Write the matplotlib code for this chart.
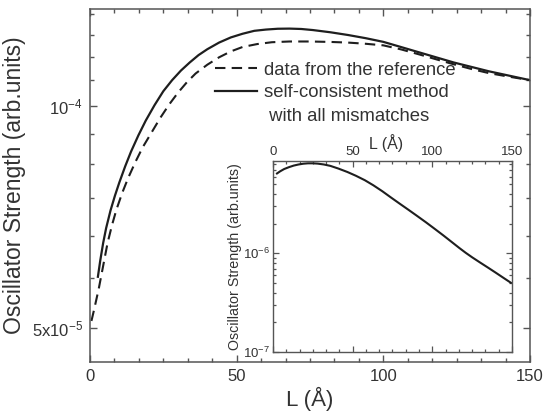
import matplotlib
matplotlib.use("Agg")
import matplotlib.pyplot as plt
from matplotlib.ticker import FixedLocator, FixedFormatter, MultipleLocator, LogLocator, NullFormatter
from matplotlib.lines import Line2D

plt.rcParams["font.family"] = ["Liberation Sans", "DejaVu Sans"]
plt.rcParams["mathtext.fontset"] = "custom"
plt.rcParams["mathtext.rm"] = "Liberation Sans"
plt.rcParams["mathtext.it"] = "Liberation Sans:italic"
plt.rcParams["mathtext.bf"] = "Liberation Sans:bold"

# Oscillator strength vs. well width L (Angstrom)
L_ref = [0.5, 1.5, 3, 4.5, 6, 7.5, 9, 11, 13, 15.5, 18, 21, 24, 27, 30, 33, 36, 40, 44, 48,
         52, 57, 62, 68, 75, 82, 88, 94, 100, 106, 112, 118, 124, 130, 136, 143, 150]
f_ref = [5.105e-5, 5.309e-5, 5.649e-5, 6.067e-5, 6.516e-5, 6.887e-5, 7.228e-5, 7.621e-5,
         7.980e-5, 8.395e-5, 8.790e-5, 9.204e-5, 9.638e-5, 1.0046e-4, 1.0423e-4, 1.0765e-4,
         1.1066e-4, 1.1376e-4, 1.1641e-4, 1.1858e-4, 1.2023e-4, 1.2134e-4, 1.2204e-4,
         1.2232e-4, 1.2232e-4, 1.2215e-4, 1.2190e-4, 1.2145e-4, 1.2085e-4, 1.1935e-4,
         1.1755e-4, 1.1570e-4, 1.1390e-4, 1.1225e-4, 1.1080e-4, 1.0955e-4, 1.0839e-4]

L_sc = [2.7, 3.5, 4.5, 5.5, 7, 8.5, 10, 12, 14, 16.5, 19, 22, 25, 28, 31, 34, 37, 40, 44, 48,
        52, 56, 60, 64, 68, 72, 76, 82, 88, 94, 100, 106, 112, 118, 124, 130, 136, 143, 150]
f_sc = [5.861e-5, 6.166e-5, 6.516e-5, 6.823e-5, 7.211e-5, 7.551e-5, 7.870e-5, 8.279e-5,
        8.670e-5, 9.120e-5, 9.550e-5, 1.0023e-4, 1.0471e-4, 1.0839e-4, 1.1169e-4, 1.1455e-4,
        1.1722e-4, 1.1940e-4, 1.2190e-4, 1.2388e-4, 1.2531e-4, 1.2647e-4, 1.2697e-4,
        1.2729e-4, 1.2735e-4, 1.2720e-4, 1.2677e-4, 1.2589e-4, 1.2482e-4, 1.2359e-4,
        1.2218e-4, 1.2023e-4, 1.1830e-4, 1.1641e-4, 1.1455e-4, 1.1298e-4, 1.1143e-4,
        1.0990e-4, 1.0839e-4]

# inset: wider range of oscillator strength
L_in = [2.5, 4.5, 7, 10, 13, 16, 19, 22, 25, 28, 32, 36, 41, 46.7, 52, 57.6, 63, 68.6, 74,
        79.5, 85, 90.4, 96, 101.3, 107, 112.2, 117, 121, 125, 130, 135, 140, 145, 149.3]
f_in = [6.457e-6, 6.792e-6, 7.161e-6, 7.482e-6, 7.762e-6, 7.962e-6, 8.110e-6, 8.185e-6,
        8.185e-6, 8.128e-6, 7.962e-6, 7.709e-6, 7.244e-6, 6.683e-6, 6.124e-6, 5.521e-6,
        4.898e-6, 4.266e-6, 3.690e-6, 3.192e-6, 2.767e-6, 2.399e-6, 2.065e-6, 1.782e-6,
        1.517e-6, 1.303e-6, 1.132e-6, 1.012e-6, 9.120e-7, 8.072e-7, 7.161e-7, 6.339e-7,
        5.598e-7, 5.035e-7]

main_yticks = [5e-5, 1e-4]
main_yticklabels = ["5x10$^{-5}$", "10$^{-4}$"]
legend_labels = ["data from the reference", "self-consistent method"]
legend_extra = " with all mismatches"

TXT = "#333333"
LINE = "#1e1e1e"
SPINE = "#555555"

fig = plt.figure(figsize=(5.46, 4.13), dpi=100)
ax = fig.add_axes([0.1648, 0.1235, 0.8059, 0.8547])

ax.plot(L_ref, f_ref, color=LINE, lw=1.5, dashes=(5, 3))
ax.plot(L_sc, f_sc, color=LINE, lw=1.6)

ax.set_yscale("log")
ax.set_xlim(0, 150)
ax.set_ylim(4.49e-5, 1.354e-4)
ax.xaxis.set_major_locator(MultipleLocator(50))
ax.xaxis.set_minor_locator(MultipleLocator(50 / 6))
ax.yaxis.set_major_locator(FixedLocator(main_yticks))
ax.yaxis.set_major_formatter(FixedFormatter(main_yticklabels))
ax.yaxis.set_minor_locator(FixedLocator([n * 5e-5 / 6 for n in range(6, 17)]))
ax.yaxis.set_minor_formatter(NullFormatter())

ax.tick_params(which="both", direction="in", top=True, right=True, color=SPINE, width=1.0, labelcolor=TXT)
ax.tick_params(which="major", length=5, labelsize=12, pad=5)
ax.tick_params(which="minor", length=3)
for s in ax.spines.values():
    s.set_color(SPINE)
    s.set_linewidth(1.1)

ax.set_xlabel("L (Å)", fontsize=16, color=TXT, labelpad=2)
ax.set_ylabel("Oscillator Strength (arb.units)", fontsize=16.5, color=TXT, labelpad=4)

handles = [Line2D([], [], color=LINE, lw=1.5, dashes=(5, 3)),
           Line2D([], [], color=LINE, lw=1.6)]
leg = ax.legend(handles, legend_labels, loc="upper left", bbox_to_anchor=(0.284, 0.85),
                frameon=False, fontsize=13.3, handlelength=2.3, handletextpad=0.35,
                borderpad=0, borderaxespad=0, labelspacing=0.3)
for t in leg.get_texts():
    t.set_color(TXT)
ax.text(0.395, 0.696, legend_extra, transform=ax.transAxes, fontsize=13.3, color=TXT,
        va="center", ha="left")

# inset
axi = fig.add_axes([0.5, 0.1477, 0.4377, 0.4632])
axi.set_facecolor("white")
axi.plot(L_in, f_in, color=LINE, lw=1.5)
axi.set_yscale("log")
axi.set_xlim(0, 150)
axi.set_ylim(1e-7, 8.7e-6)
axi.xaxis.set_major_locator(MultipleLocator(50))
axi.xaxis.set_minor_locator(MultipleLocator(50 / 6))
axi.yaxis.set_major_locator(LogLocator(base=10, numticks=10))
axi.yaxis.set_minor_locator(LogLocator(base=10, subs=range(2, 10), numticks=10))
axi.yaxis.set_minor_formatter(NullFormatter())
axi.tick_params(axis="x", which="both", top=True, bottom=True, labeltop=True, labelbottom=False)
axi.tick_params(which="both", direction="in", right=True, color=SPINE, width=0.9, labelcolor=TXT)
axi.tick_params(which="major", length=4, labelsize=9.5, pad=2)
axi.tick_params(which="minor", length=2)
for s in axi.spines.values():
    s.set_color(SPINE)
    s.set_linewidth(1.0)
axi.xaxis.set_label_position("top")
axi.set_xlabel("L (Å)", fontsize=11.5, color=TXT)
axi.xaxis.set_label_coords(0.474, 1.093)
axi.xaxis.label.set_va("center")
axi.set_ylabel("Oscillator Strength (arb.units)", fontsize=10.3, color=TXT, labelpad=1)

fig.savefig("out.png", dpi=100)
